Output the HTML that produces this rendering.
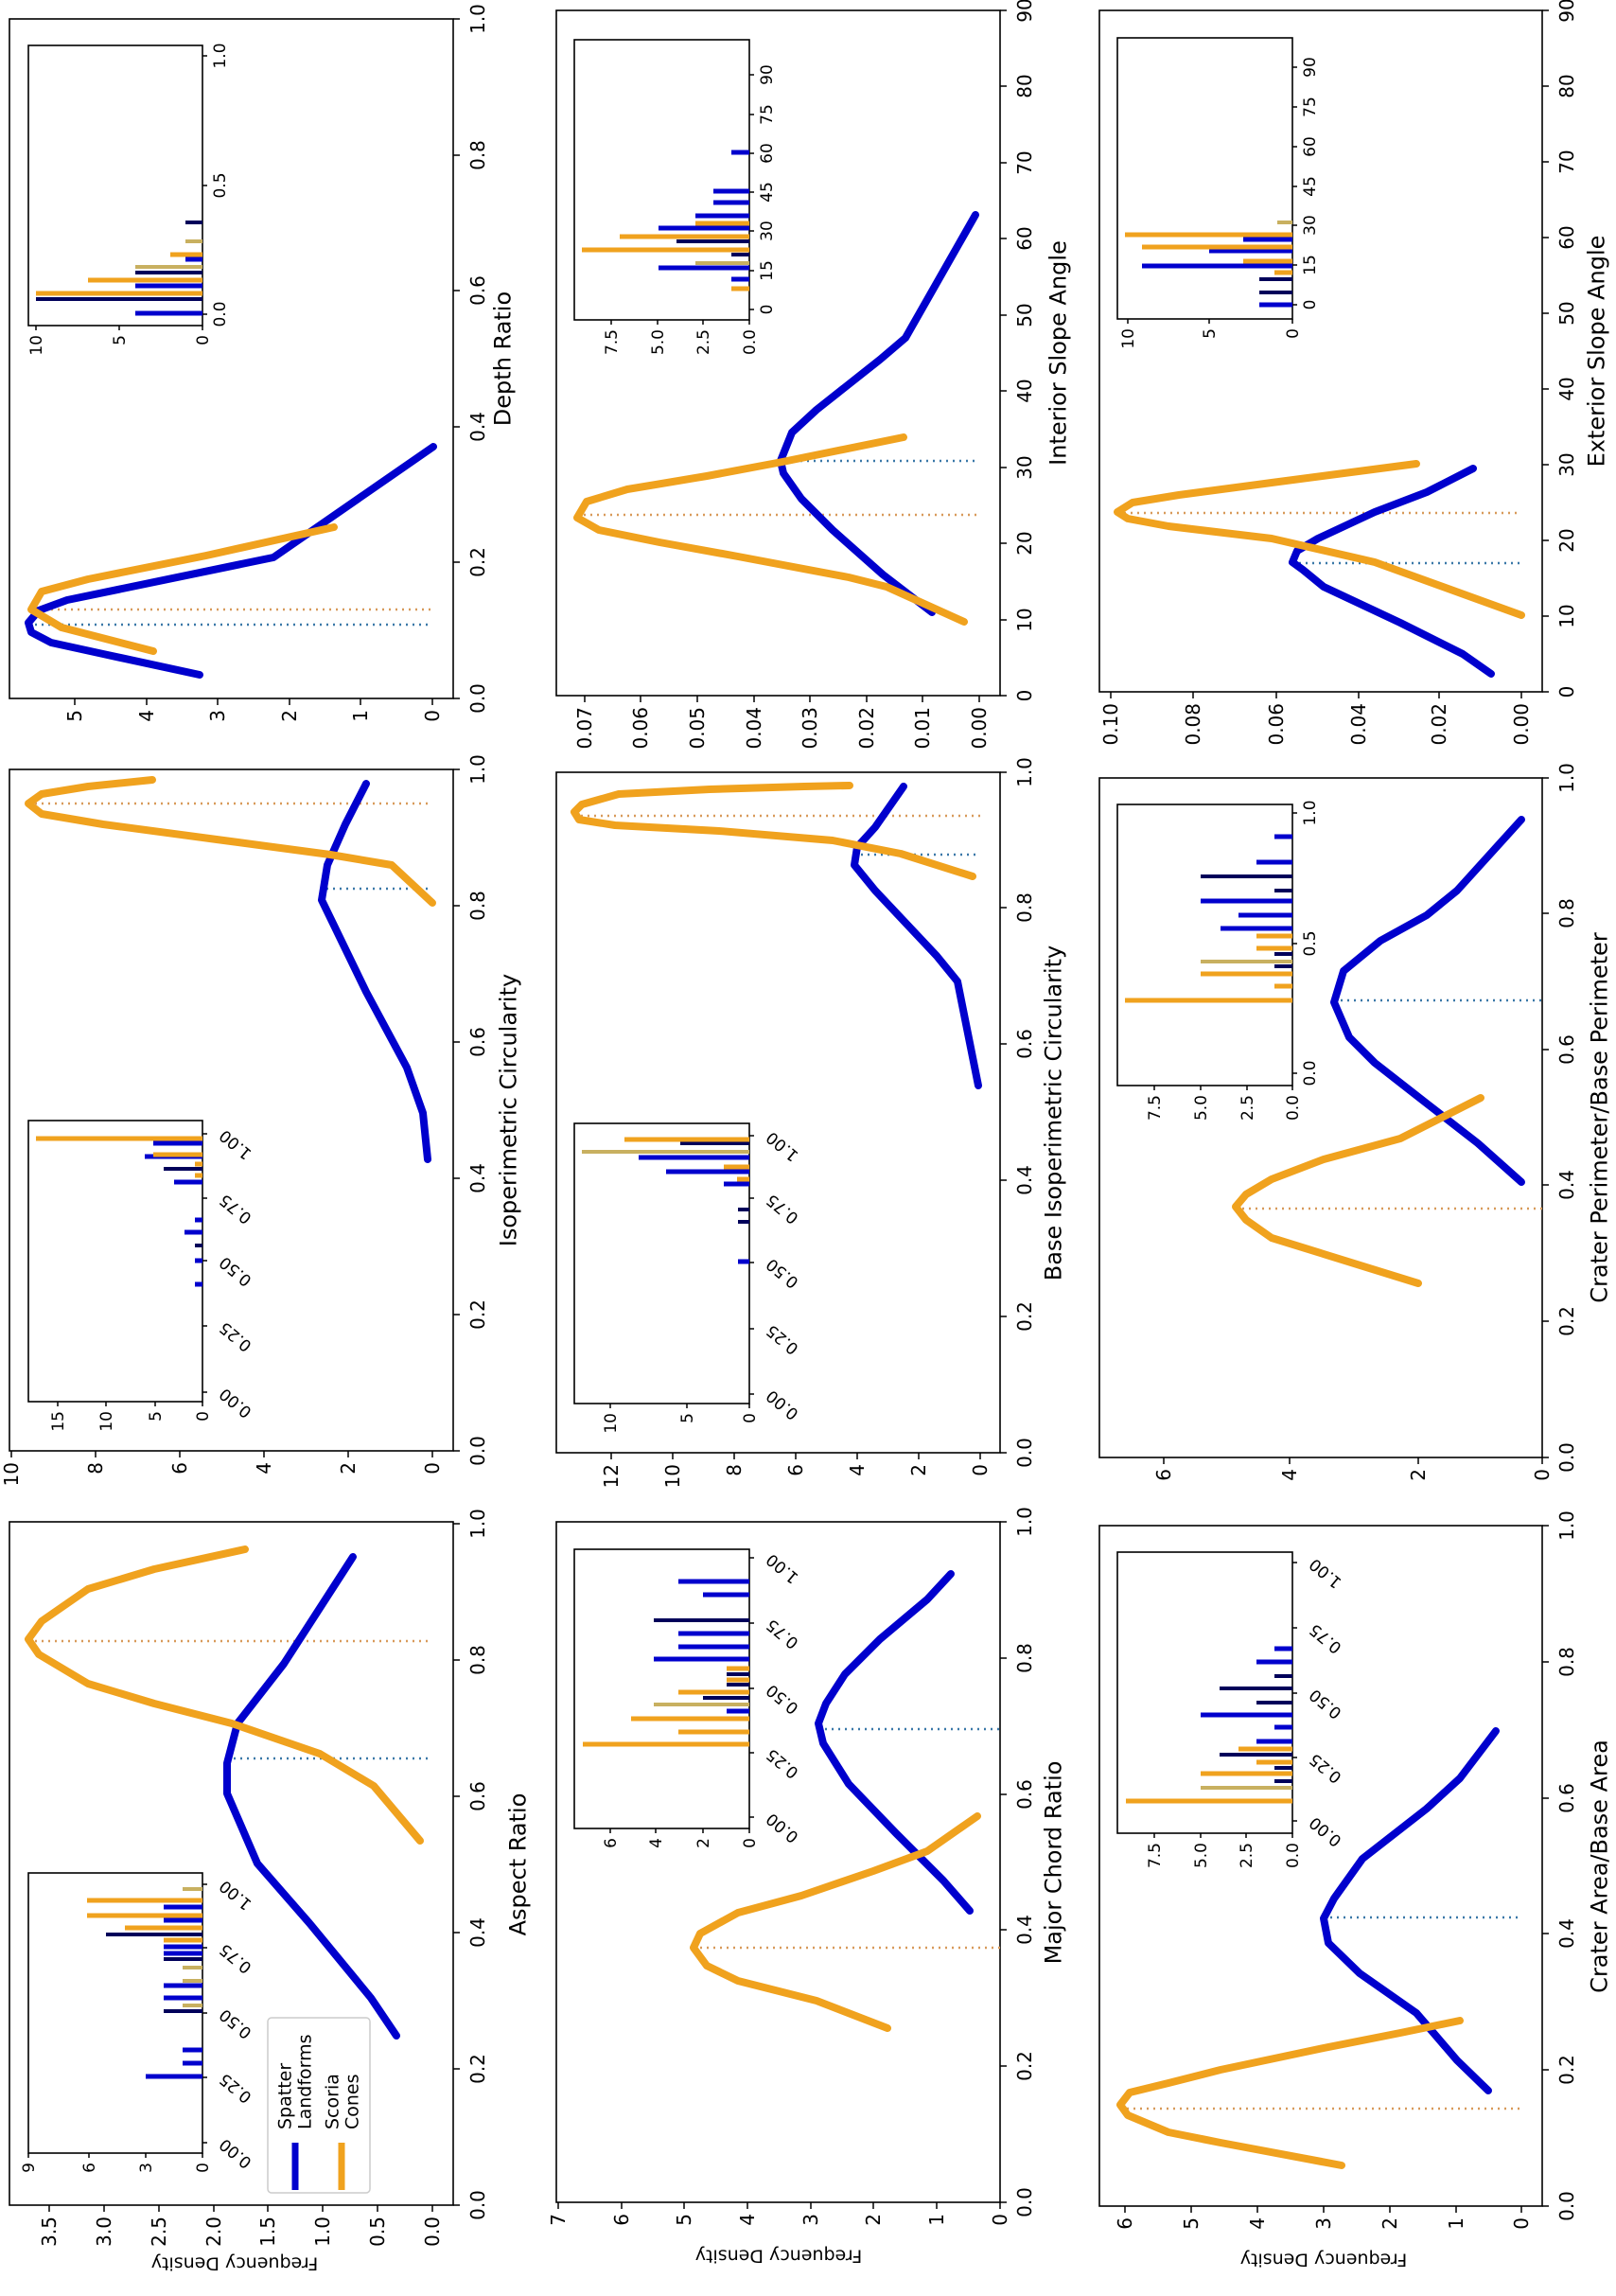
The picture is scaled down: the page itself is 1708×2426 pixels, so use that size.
<!DOCTYPE html>
<html><head><meta charset="utf-8"><style>
html,body{margin:0;padding:0;background:#fff}
svg{display:block}
text{font-family:"DejaVu Sans","Liberation Sans",sans-serif;fill:#000}
.t{font-size:20px}.s{font-size:17px}.l{font-size:24px}.g{font-size:19px}
.fr{fill:none;stroke:#000;stroke-width:1.6}
.tk{stroke:#000;stroke-width:1.5;fill:none}
.cb{fill:none;stroke:#0000cd;stroke-width:8;stroke-linejoin:round;stroke-linecap:round}
.co{fill:none;stroke:#f0a21e;stroke-width:8;stroke-linejoin:round;stroke-linecap:round}
.db{stroke:#3a78a8;stroke-width:2.5;stroke-dasharray:2 5}
.do{stroke:#d89a5a;stroke-width:2.5;stroke-dasharray:2 5}
.B{stroke:#0000cd;stroke-width:5}.N{stroke:#00005a;stroke-width:4}.O{stroke:#f0a21e;stroke-width:5}.T{stroke:#c8b060;stroke-width:4}
</style></head><body>
<svg width="1708" height="2426" viewBox="0 0 1708 2426" xmlns="http://www.w3.org/2000/svg">
<rect width="1708" height="2426" fill="#fff"/>

<!-- ===== A1 Depth Ratio ===== -->
<rect class="fr" x="10" y="20" width="469" height="718"/>
<path class="tk" d="M479 738h7M479 594h7M479 451h7M479 307h7M479 164h7M479 20h7M457 738v7M381 738v7M306 738v7M230 738v7M155 738v7M79 738v7"/>
<g class="t" text-anchor="middle">
<text x="505" y="738" dy=".35em" transform="rotate(-90 505 738)">0.0</text>
<text x="505" y="594" dy=".35em" transform="rotate(-90 505 594)">0.2</text>
<text x="505" y="451" dy=".35em" transform="rotate(-90 505 451)">0.4</text>
<text x="505" y="307" dy=".35em" transform="rotate(-90 505 307)">0.6</text>
<text x="505" y="164" dy=".35em" transform="rotate(-90 505 164)">0.8</text>
<text x="505" y="20" dy=".35em" transform="rotate(-90 505 20)">1.0</text>
</g>
<g class="t" text-anchor="end">
<text x="457" y="750" dy=".35em" transform="rotate(-90 457 750)">0</text>
<text x="381" y="750" dy=".35em" transform="rotate(-90 381 750)">1</text>
<text x="306" y="750" dy=".35em" transform="rotate(-90 306 750)">2</text>
<text x="230" y="750" dy=".35em" transform="rotate(-90 230 750)">3</text>
<text x="155" y="750" dy=".35em" transform="rotate(-90 155 750)">4</text>
<text x="79" y="750" dy=".35em" transform="rotate(-90 79 750)">5</text>
</g>
<text class="l" x="531" y="379" dy=".35em" text-anchor="middle" transform="rotate(-90 531 379)">Depth Ratio</text>
<line class="do" x1="33" y1="644" x2="457" y2="644"/>
<line class="db" x1="30" y1="660" x2="457" y2="660"/>
<polyline class="cb" points="211,713 109,691 54,679 33,668 30,658 41,645 71,634 289,589 458,472"/>
<polyline class="co" points="162,688 65,663 33,644 44,625 93,612 218,587 353,557"/>
<rect class="fr" x="30" y="48" width="184" height="296" fill="#fff"/>
<path class="B" d="M214 331H143M214 302H143M214 274H196"/>
<path class="N" d="M214 316H38M214 288H143M214 235H196"/>
<path class="O" d="M214 310H38M214 296H93M214 269H180"/>
<path class="T" d="M214 282H143M214 255H196"/>
<path class="tk" d="M214 332h5M214 196h5M214 59h5M214 344v5M126 344v5M38 344v5"/>
<g class="s" text-anchor="middle">
<text x="232" y="332" dy=".35em" transform="rotate(-90 232 332)">0.0</text>
<text x="232" y="196" dy=".35em" transform="rotate(-90 232 196)">0.5</text>
<text x="232" y="59" dy=".35em" transform="rotate(-90 232 59)">1.0</text>
</g>
<g class="s" text-anchor="end">
<text x="214" y="354" dy=".35em" transform="rotate(-90 214 354)">0</text>
<text x="126" y="354" dy=".35em" transform="rotate(-90 126 354)">5</text>
<text x="38" y="354" dy=".35em" transform="rotate(-90 38 354)">10</text>
</g>

<!-- ===== B1 Interior Slope Angle ===== -->
<rect class="fr" x="588" y="11" width="469" height="724"/>
<path class="tk" d="M1057 735h7M1057 655h7M1057 574h7M1057 494h7M1057 413h7M1057 333h7M1057 252h7M1057 172h7M1057 91h7M1057 11h7M1035 735v7M975 735v7M916 735v7M856 735v7M797 735v7M737 735v7M677 735v7M618 735v7"/>
<g class="t" text-anchor="middle">
<text x="1083" y="735" dy=".35em" transform="rotate(-90 1083 735)">0</text>
<text x="1083" y="655" dy=".35em" transform="rotate(-90 1083 655)">10</text>
<text x="1083" y="574" dy=".35em" transform="rotate(-90 1083 574)">20</text>
<text x="1083" y="494" dy=".35em" transform="rotate(-90 1083 494)">30</text>
<text x="1083" y="413" dy=".35em" transform="rotate(-90 1083 413)">40</text>
<text x="1083" y="333" dy=".35em" transform="rotate(-90 1083 333)">50</text>
<text x="1083" y="252" dy=".35em" transform="rotate(-90 1083 252)">60</text>
<text x="1083" y="172" dy=".35em" transform="rotate(-90 1083 172)">70</text>
<text x="1083" y="91" dy=".35em" transform="rotate(-90 1083 91)">80</text>
<text x="1083" y="11" dy=".35em" transform="rotate(-90 1083 11)">90</text>
</g>
<g class="t" text-anchor="end">
<text x="1035" y="747" dy=".35em" transform="rotate(-90 1035 747)">0.00</text>
<text x="975" y="747" dy=".35em" transform="rotate(-90 975 747)">0.01</text>
<text x="916" y="747" dy=".35em" transform="rotate(-90 916 747)">0.02</text>
<text x="856" y="747" dy=".35em" transform="rotate(-90 856 747)">0.03</text>
<text x="797" y="747" dy=".35em" transform="rotate(-90 797 747)">0.04</text>
<text x="737" y="747" dy=".35em" transform="rotate(-90 737 747)">0.05</text>
<text x="677" y="747" dy=".35em" transform="rotate(-90 677 747)">0.06</text>
<text x="618" y="747" dy=".35em" transform="rotate(-90 618 747)">0.07</text>
</g>
<text class="l" x="1118" y="373" dy=".35em" text-anchor="middle" transform="rotate(-90 1118 373)">Interior Slope Angle</text>
<line class="db" x1="825" y1="487" x2="1035" y2="487"/>
<line class="do" x1="610" y1="544" x2="1035" y2="544"/>
<polyline class="cb" points="985,647 933,607 880,560 847,527 828,500 825,487 837,457 863,433 930,380 957,357 1031,227"/>
<polyline class="co" points="1019,657 937,620 897,610 780,588 697,573 633,560 610,547 620,530 663,517 747,503 827,488 955,462"/>
<rect class="fr" x="607" y="42" width="185" height="296" fill="#fff"/>
<path class="B" d="M792 295H773M792 283H696M792 241H696M792 228H735M792 214H754M792 202H754M792 161H773"/>
<path class="N" d="M792 269H773M792 255H715"/>
<path class="O" d="M792 305H773M792 264H615M792 250H655M792 236H735"/>
<path class="T" d="M792 278H735"/>
<path class="tk" d="M792 327h5M792 286h5M792 244h5M792 203h5M792 162h5M792 121h5M792 79h5M792 338v5M743 338v5M695 338v5M646 338v5"/>
<g class="s" text-anchor="middle">
<text x="810" y="327" dy=".35em" transform="rotate(-90 810 327)">0</text>
<text x="810" y="286" dy=".35em" transform="rotate(-90 810 286)">15</text>
<text x="810" y="244" dy=".35em" transform="rotate(-90 810 244)">30</text>
<text x="810" y="203" dy=".35em" transform="rotate(-90 810 203)">45</text>
<text x="810" y="162" dy=".35em" transform="rotate(-90 810 162)">60</text>
<text x="810" y="121" dy=".35em" transform="rotate(-90 810 121)">75</text>
<text x="810" y="79" dy=".35em" transform="rotate(-90 810 79)">90</text>
</g>
<g class="s" text-anchor="end">
<text x="792" y="348" dy=".35em" transform="rotate(-90 792 348)">0.0</text>
<text x="743" y="348" dy=".35em" transform="rotate(-90 743 348)">2.5</text>
<text x="695" y="348" dy=".35em" transform="rotate(-90 695 348)">5.0</text>
<text x="646" y="348" dy=".35em" transform="rotate(-90 646 348)">7.5</text>
</g>

<!-- ===== C1 Exterior Slope Angle ===== -->
<rect class="fr" x="1162" y="11" width="468" height="720"/>
<path class="tk" d="M1630 731h7M1630 651h7M1630 571h7M1630 491h7M1630 411h7M1630 331h7M1630 251h7M1630 171h7M1630 91h7M1630 11h7M1608 731v7M1521 731v7M1436 731v7M1349 731v7M1261 731v7M1174 731v7"/>
<g class="t" text-anchor="middle">
<text x="1656" y="731" dy=".35em" transform="rotate(-90 1656 731)">0</text>
<text x="1656" y="651" dy=".35em" transform="rotate(-90 1656 651)">10</text>
<text x="1656" y="571" dy=".35em" transform="rotate(-90 1656 571)">20</text>
<text x="1656" y="491" dy=".35em" transform="rotate(-90 1656 491)">30</text>
<text x="1656" y="411" dy=".35em" transform="rotate(-90 1656 411)">40</text>
<text x="1656" y="331" dy=".35em" transform="rotate(-90 1656 331)">50</text>
<text x="1656" y="251" dy=".35em" transform="rotate(-90 1656 251)">60</text>
<text x="1656" y="171" dy=".35em" transform="rotate(-90 1656 171)">70</text>
<text x="1656" y="91" dy=".35em" transform="rotate(-90 1656 91)">80</text>
<text x="1656" y="11" dy=".35em" transform="rotate(-90 1656 11)">90</text>
</g>
<g class="t" text-anchor="end">
<text x="1608" y="743" dy=".35em" transform="rotate(-90 1608 743)">0.00</text>
<text x="1521" y="743" dy=".35em" transform="rotate(-90 1521 743)">0.02</text>
<text x="1436" y="743" dy=".35em" transform="rotate(-90 1436 743)">0.04</text>
<text x="1349" y="743" dy=".35em" transform="rotate(-90 1349 743)">0.06</text>
<text x="1261" y="743" dy=".35em" transform="rotate(-90 1261 743)">0.08</text>
<text x="1174" y="743" dy=".35em" transform="rotate(-90 1174 743)">0.10</text>
</g>
<text class="l" x="1687" y="371" dy=".35em" text-anchor="middle" transform="rotate(-90 1687 371)">Exterior Slope Angle</text>
<line class="do" x1="1181" y1="542" x2="1608" y2="542"/>
<line class="db" x1="1366" y1="595" x2="1608" y2="595"/>
<polyline class="cb" points="1576,712 1546,691 1480,658 1399,620 1377,602 1366,594 1371,582 1393,569 1453,541 1508,520 1557,495"/>
<polyline class="co" points="1608,650 1453,594 1344,569 1235,556 1192,548 1181,541 1197,531 1246,523 1344,510 1497,490"/>
<rect class="fr" x="1181" y="40" width="185" height="297" fill="#fff"/>
<path class="B" d="M1366 322H1331M1366 281H1207M1366 265H1278M1366 253H1314"/>
<path class="N" d="M1366 309H1331M1366 295H1331"/>
<path class="O" d="M1366 288H1347M1366 276H1314M1366 261H1207M1366 248H1189"/>
<path class="T" d="M1366 235H1350"/>
<path class="tk" d="M1366 322h5M1366 280h5M1366 238h5M1366 197h5M1366 155h5M1366 113h5M1366 71h5M1366 337v5M1278 337v5M1192 337v5"/>
<g class="s" text-anchor="middle">
<text x="1384" y="322" dy=".35em" transform="rotate(-90 1384 322)">0</text>
<text x="1384" y="280" dy=".35em" transform="rotate(-90 1384 280)">15</text>
<text x="1384" y="238" dy=".35em" transform="rotate(-90 1384 238)">30</text>
<text x="1384" y="197" dy=".35em" transform="rotate(-90 1384 197)">45</text>
<text x="1384" y="155" dy=".35em" transform="rotate(-90 1384 155)">60</text>
<text x="1384" y="113" dy=".35em" transform="rotate(-90 1384 113)">75</text>
<text x="1384" y="71" dy=".35em" transform="rotate(-90 1384 71)">90</text>
</g>
<g class="s" text-anchor="end">
<text x="1366" y="347" dy=".35em" transform="rotate(-90 1366 347)">0</text>
<text x="1278" y="347" dy=".35em" transform="rotate(-90 1278 347)">5</text>
<text x="1192" y="347" dy=".35em" transform="rotate(-90 1192 347)">10</text>
</g>

<!-- ===== A2 Isoperimetric Circularity ===== -->
<rect class="fr" x="10" y="813" width="469" height="720"/>
<path class="tk" d="M479 1533h7M479 1389h7M479 1245h7M479 1101h7M479 957h7M479 813h7M457 1533v7M368 1533v7M279 1533v7M190 1533v7M101 1533v7M12 1533v7"/>
<g class="t" text-anchor="middle">
<text x="505" y="1533" dy=".35em" transform="rotate(-90 505 1533)">0.0</text>
<text x="505" y="1389" dy=".35em" transform="rotate(-90 505 1389)">0.2</text>
<text x="505" y="1245" dy=".35em" transform="rotate(-90 505 1245)">0.4</text>
<text x="505" y="1101" dy=".35em" transform="rotate(-90 505 1101)">0.6</text>
<text x="505" y="957" dy=".35em" transform="rotate(-90 505 957)">0.8</text>
<text x="505" y="813" dy=".35em" transform="rotate(-90 505 813)">1.0</text>
</g>
<g class="t" text-anchor="end">
<text x="457" y="1545" dy=".35em" transform="rotate(-90 457 1545)">0</text>
<text x="368" y="1545" dy=".35em" transform="rotate(-90 368 1545)">2</text>
<text x="279" y="1545" dy=".35em" transform="rotate(-90 279 1545)">4</text>
<text x="190" y="1545" dy=".35em" transform="rotate(-90 190 1545)">6</text>
<text x="101" y="1545" dy=".35em" transform="rotate(-90 101 1545)">8</text>
<text x="12" y="1545" dy=".35em" transform="rotate(-90 12 1545)">10</text>
</g>
<text class="l" x="537" y="1173" dy=".35em" text-anchor="middle" transform="rotate(-90 537 1173)">Isoperimetric Circularity</text>
<line class="do" x1="30" y1="849" x2="457" y2="849"/>
<line class="db" x1="345" y1="939" x2="457" y2="939"/>
<polyline class="cb" points="452,1225 447,1176 430,1128 387,1048 340,951 346,914 365,871 387,828"/>
<polyline class="co" points="457,954 414,914 349,903 229,887 109,871 44,860 30,849 44,839 93,831 161,824"/>
<rect class="fr" x="30" y="1184" width="184" height="297" fill="#fff"/>
<path class="B" d="M214 1208H162M214 1222H153M214 1249H184M214 1289H206M214 1302H195M214 1332H206M214 1357H206"/>
<path class="N" d="M214 1235H173M214 1316H206"/>
<path class="O" d="M214 1203H38M214 1220H162M214 1230H206M214 1242H206"/>
<path class="tk" d="M214 1198h5M214 1266h5M214 1332h5M214 1401h5M214 1471h5M214 1481v5M164 1481v5M112 1481v5M61 1481v5"/>
<g class="s" text-anchor="end">
<text x="238" y="1193" transform="rotate(-140 238 1193)">1.00</text>
<text x="238" y="1261" transform="rotate(-140 238 1261)">0.75</text>
<text x="238" y="1327" transform="rotate(-140 238 1327)">0.50</text>
<text x="238" y="1396" transform="rotate(-140 238 1396)">0.25</text>
<text x="238" y="1466" transform="rotate(-140 238 1466)">0.00</text>
<text x="214" y="1491" dy=".35em" transform="rotate(-90 214 1491)">0</text>
<text x="164" y="1491" dy=".35em" transform="rotate(-90 164 1491)">5</text>
<text x="112" y="1491" dy=".35em" transform="rotate(-90 112 1491)">10</text>
<text x="61" y="1491" dy=".35em" transform="rotate(-90 61 1491)">15</text>
</g>

<!-- ===== B2 Base Isoperimetric Circularity ===== -->
<rect class="fr" x="588" y="816" width="469" height="719"/>
<path class="tk" d="M1057 1535h7M1057 1391h7M1057 1247h7M1057 1103h7M1057 959h7M1057 816h7M1036 1535v7M971 1535v7M906 1535v7M841 1535v7M776 1535v7M711 1535v7M646 1535v7"/>
<g class="t" text-anchor="middle">
<text x="1083" y="1535" dy=".35em" transform="rotate(-90 1083 1535)">0.0</text>
<text x="1083" y="1391" dy=".35em" transform="rotate(-90 1083 1391)">0.2</text>
<text x="1083" y="1247" dy=".35em" transform="rotate(-90 1083 1247)">0.4</text>
<text x="1083" y="1103" dy=".35em" transform="rotate(-90 1083 1103)">0.6</text>
<text x="1083" y="959" dy=".35em" transform="rotate(-90 1083 959)">0.8</text>
<text x="1083" y="816" dy=".35em" transform="rotate(-90 1083 816)">1.0</text>
</g>
<g class="t" text-anchor="end">
<text x="1036" y="1547" dy=".35em" transform="rotate(-90 1036 1547)">0</text>
<text x="971" y="1547" dy=".35em" transform="rotate(-90 971 1547)">2</text>
<text x="906" y="1547" dy=".35em" transform="rotate(-90 906 1547)">4</text>
<text x="841" y="1547" dy=".35em" transform="rotate(-90 841 1547)">6</text>
<text x="776" y="1547" dy=".35em" transform="rotate(-90 776 1547)">8</text>
<text x="711" y="1547" dy=".35em" transform="rotate(-90 711 1547)">10</text>
<text x="646" y="1547" dy=".35em" transform="rotate(-90 646 1547)">12</text>
</g>
<text class="l" x="1113" y="1176" dy=".35em" text-anchor="middle" transform="rotate(-90 1113 1176)">Base Isoperimetric Circularity</text>
<line class="do" x1="607" y1="862" x2="1036" y2="862"/>
<line class="db" x1="903" y1="903" x2="1036" y2="903"/>
<polyline class="cb" points="1034,1147 1012,1037 990,1010 925,941 903,914 906,895 925,874 955,831"/>
<polyline class="co" points="1028,926 952,902 880,888 760,878 650,872 612,866 607,858 615,850 654,839 750,834 850,831 898,830"/>
<rect class="fr" x="607" y="1187" width="185" height="296" fill="#fff"/>
<path class="B" d="M792 1223H675M792 1238H704M792 1251H765M792 1333H780"/>
<path class="N" d="M792 1208H719M792 1278H780M792 1291H780"/>
<path class="O" d="M792 1204H660M792 1233H765M792 1246H779"/>
<path class="T" d="M792 1217H615"/>
<path class="tk" d="M792 1200h5M792 1266h5M792 1334h5M792 1404h5M792 1473h5M792 1483v5M726 1483v5M645 1483v5"/>
<g class="s" text-anchor="end">
<text x="816" y="1195" transform="rotate(-140 816 1195)">1.00</text>
<text x="816" y="1261" transform="rotate(-140 816 1261)">0.75</text>
<text x="816" y="1329" transform="rotate(-140 816 1329)">0.50</text>
<text x="816" y="1399" transform="rotate(-140 816 1399)">0.25</text>
<text x="816" y="1468" transform="rotate(-140 816 1468)">0.00</text>
<text x="792" y="1493" dy=".35em" transform="rotate(-90 792 1493)">0</text>
<text x="726" y="1493" dy=".35em" transform="rotate(-90 726 1493)">5</text>
<text x="645" y="1493" dy=".35em" transform="rotate(-90 645 1493)">10</text>
</g>

<!-- ===== C2 Crater Perimeter/Base Perimeter ===== -->
<rect class="fr" x="1162" y="822" width="468" height="718"/>
<path class="tk" d="M1630 1540h7M1630 1396h7M1630 1252h7M1630 1109h7M1630 965h7M1630 822h7M1630 1540v7M1499 1540v7M1363 1540v7M1230 1540v7"/>
<g class="t" text-anchor="middle">
<text x="1656" y="1540" dy=".35em" transform="rotate(-90 1656 1540)">0.0</text>
<text x="1656" y="1396" dy=".35em" transform="rotate(-90 1656 1396)">0.2</text>
<text x="1656" y="1252" dy=".35em" transform="rotate(-90 1656 1252)">0.4</text>
<text x="1656" y="1109" dy=".35em" transform="rotate(-90 1656 1109)">0.6</text>
<text x="1656" y="965" dy=".35em" transform="rotate(-90 1656 965)">0.8</text>
<text x="1656" y="822" dy=".35em" transform="rotate(-90 1656 822)">1.0</text>
</g>
<g class="t" text-anchor="end">
<text x="1630" y="1552" dy=".35em" transform="rotate(-90 1630 1552)">0</text>
<text x="1499" y="1552" dy=".35em" transform="rotate(-90 1499 1552)">2</text>
<text x="1363" y="1552" dy=".35em" transform="rotate(-90 1363 1552)">4</text>
<text x="1230" y="1552" dy=".35em" transform="rotate(-90 1230 1552)">6</text>
</g>
<text class="l" x="1690" y="1181" dy=".35em" text-anchor="middle" transform="rotate(-90 1690 1181)">Crater Perimeter/Base Perimeter</text>
<line class="do" x1="1306" y1="1277" x2="1630" y2="1277"/>
<line class="db" x1="1410" y1="1057" x2="1630" y2="1057"/>
<polyline class="cb" points="1608,1249 1562,1208 1508,1166 1453,1123 1426,1096 1410,1059 1420,1026 1459,994 1508,967 1540,941 1608,866"/>
<polyline class="co" points="1499,1356 1344,1308 1317,1289 1306,1275 1317,1262 1344,1246 1399,1225 1480,1203 1565,1160"/>
<rect class="fr" x="1181" y="850" width="185" height="297" fill="#fff"/>
<path class="B" d="M1366 981H1290M1366 967H1309M1366 952H1269M1366 911H1328M1366 884H1347"/>
<path class="N" d="M1366 1021H1347M1366 1008H1347M1366 941H1347M1366 926H1269"/>
<path class="O" d="M1366 1057H1189M1366 1042H1347M1366 1029H1269M1366 1002H1328M1366 989H1328"/>
<path class="T" d="M1366 1016H1269"/>
<path class="tk" d="M1366 1134h5M1366 997h5M1366 859h5M1366 1147v5M1318 1147v5M1269 1147v5M1220 1147v5"/>
<g class="s" text-anchor="middle">
<text x="1384" y="1134" dy=".35em" transform="rotate(-90 1384 1134)">0.0</text>
<text x="1384" y="997" dy=".35em" transform="rotate(-90 1384 997)">0.5</text>
<text x="1384" y="859" dy=".35em" transform="rotate(-90 1384 859)">1.0</text>
</g>
<g class="s" text-anchor="end">
<text x="1366" y="1157" dy=".35em" transform="rotate(-90 1366 1157)">0.0</text>
<text x="1318" y="1157" dy=".35em" transform="rotate(-90 1318 1157)">2.5</text>
<text x="1269" y="1157" dy=".35em" transform="rotate(-90 1269 1157)">5.0</text>
<text x="1220" y="1157" dy=".35em" transform="rotate(-90 1220 1157)">7.5</text>
</g>

<!-- ===== A3 Aspect Ratio ===== -->
<rect class="fr" x="10" y="1608" width="469" height="722"/>
<path class="tk" d="M479 2330h7M479 2186h7M479 2042h7M479 1898h7M479 1754h7M479 1610h7M457 2330v7M399 2330v7M341 2330v7M283 2330v7M226 2330v7M168 2330v7M110 2330v7M52 2330v7"/>
<g class="t" text-anchor="middle">
<text x="505" y="2330" dy=".35em" transform="rotate(-90 505 2330)">0.0</text>
<text x="505" y="2186" dy=".35em" transform="rotate(-90 505 2186)">0.2</text>
<text x="505" y="2042" dy=".35em" transform="rotate(-90 505 2042)">0.4</text>
<text x="505" y="1898" dy=".35em" transform="rotate(-90 505 1898)">0.6</text>
<text x="505" y="1754" dy=".35em" transform="rotate(-90 505 1754)">0.8</text>
<text x="505" y="1610" dy=".35em" transform="rotate(-90 505 1610)">1.0</text>
</g>
<g class="t" text-anchor="end">
<text x="457" y="2342" dy=".35em" transform="rotate(-90 457 2342)">0.0</text>
<text x="399" y="2342" dy=".35em" transform="rotate(-90 399 2342)">0.5</text>
<text x="341" y="2342" dy=".35em" transform="rotate(-90 341 2342)">1.0</text>
<text x="283" y="2342" dy=".35em" transform="rotate(-90 283 2342)">1.5</text>
<text x="226" y="2342" dy=".35em" transform="rotate(-90 226 2342)">2.0</text>
<text x="168" y="2342" dy=".35em" transform="rotate(-90 168 2342)">2.5</text>
<text x="110" y="2342" dy=".35em" transform="rotate(-90 110 2342)">3.0</text>
<text x="52" y="2342" dy=".35em" transform="rotate(-90 52 2342)">3.5</text>
</g>
<text class="l" x="547" y="1970" dy=".35em" text-anchor="middle" transform="rotate(-90 547 1970)">Aspect Ratio</text>
<text class="g" x="248" y="2392" dy=".35em" text-anchor="middle" transform="rotate(180 248 2392)">Frequency Density</text>
<line class="do" x1="30" y1="1734" x2="457" y2="1734"/>
<line class="db" x1="240" y1="1858" x2="457" y2="1858"/>
<polyline class="cb" points="419,2151 392,2111 327,2032 272,1969 240,1895 240,1863 251,1821 300,1758 373,1645"/>
<polyline class="co" points="444,1945 395,1887 338,1853 245,1821 163,1800 93,1779 41,1748 30,1732 44,1713 93,1679 163,1658 259,1637"/>
<rect class="fr" x="30" y="1979" width="184" height="296" fill="#fff"/>
<path class="B" d="M214 2015H173M214 2029H173M214 2057H173M214 2064H173M214 2098H173M214 2111H173M214 2166H193M214 2180H193M214 2194H154"/>
<path class="N" d="M214 2044H112M214 2070H173M214 2125H173"/>
<path class="O" d="M214 2008H92M214 2024H92M214 2037H132M214 2050H173"/>
<path class="T" d="M214 1996H193M214 2079H193M214 2093H193M214 2119H193"/>
<path class="tk" d="M214 1991h5M214 2058h5M214 2127h5M214 2195h5M214 2264h5M214 2275v5M154 2275v5M94 2275v5M30 2275v5"/>
<g class="s" text-anchor="end">
<text x="238" y="1986" transform="rotate(-140 238 1986)">1.00</text>
<text x="238" y="2053" transform="rotate(-140 238 2053)">0.75</text>
<text x="238" y="2122" transform="rotate(-140 238 2122)">0.50</text>
<text x="238" y="2190" transform="rotate(-140 238 2190)">0.25</text>
<text x="238" y="2259" transform="rotate(-140 238 2259)">0.00</text>
<text x="214" y="2285" dy=".35em" transform="rotate(-90 214 2285)">0</text>
<text x="154" y="2285" dy=".35em" transform="rotate(-90 154 2285)">3</text>
<text x="94" y="2285" dy=".35em" transform="rotate(-90 94 2285)">6</text>
<text x="30" y="2285" dy=".35em" transform="rotate(-90 30 2285)">9</text>
</g>
<rect x="283" y="2132" width="108" height="185" rx="4" fill="#fff" stroke="#ccc" stroke-width="1.5"/>
<line x1="312" y1="2264" x2="312" y2="2314" stroke="#0000cd" stroke-width="7"/>
<line x1="361" y1="2264" x2="361" y2="2314" stroke="#f0a21e" stroke-width="7"/>
<g class="g" text-anchor="start">
<text x="301" y="2250" dy=".35em" transform="rotate(-90 301 2250)">Spatter</text>
<text x="322" y="2250" dy=".35em" transform="rotate(-90 322 2250)">Landforms</text>
<text x="351" y="2250" dy=".35em" transform="rotate(-90 351 2250)">Scoria</text>
<text x="372" y="2250" dy=".35em" transform="rotate(-90 372 2250)">Cones</text>
</g>

<!-- ===== B3 Major Chord Ratio ===== -->
<rect class="fr" x="588" y="1608" width="469" height="719"/>
<path class="tk" d="M1057 2327h7M1057 2183h7M1057 2039h7M1057 1896h7M1057 1752h7M1057 1608h7M1057 2327v7M990 2327v7M923 2327v7M857 2327v7M790 2327v7M723 2327v7M657 2327v7M590 2327v7"/>
<g class="t" text-anchor="middle">
<text x="1083" y="2327" dy=".35em" transform="rotate(-90 1083 2327)">0.0</text>
<text x="1083" y="2183" dy=".35em" transform="rotate(-90 1083 2183)">0.2</text>
<text x="1083" y="2039" dy=".35em" transform="rotate(-90 1083 2039)">0.4</text>
<text x="1083" y="1896" dy=".35em" transform="rotate(-90 1083 1896)">0.6</text>
<text x="1083" y="1752" dy=".35em" transform="rotate(-90 1083 1752)">0.8</text>
<text x="1083" y="1608" dy=".35em" transform="rotate(-90 1083 1608)">1.0</text>
</g>
<g class="t" text-anchor="end">
<text x="1057" y="2339" dy=".35em" transform="rotate(-90 1057 2339)">0</text>
<text x="990" y="2339" dy=".35em" transform="rotate(-90 990 2339)">1</text>
<text x="923" y="2339" dy=".35em" transform="rotate(-90 923 2339)">2</text>
<text x="857" y="2339" dy=".35em" transform="rotate(-90 857 2339)">3</text>
<text x="790" y="2339" dy=".35em" transform="rotate(-90 790 2339)">4</text>
<text x="723" y="2339" dy=".35em" transform="rotate(-90 723 2339)">5</text>
<text x="657" y="2339" dy=".35em" transform="rotate(-90 657 2339)">6</text>
<text x="590" y="2339" dy=".35em" transform="rotate(-90 590 2339)">7</text>
</g>
<text class="l" x="1113" y="1968" dy=".35em" text-anchor="middle" transform="rotate(-90 1113 1968)">Major Chord Ratio</text>
<text class="g" x="823" y="2384" dy=".35em" text-anchor="middle" transform="rotate(180 823 2384)">Frequency Density</text>
<line class="do" x1="733" y1="2058" x2="1057" y2="2058"/>
<line class="db" x1="865" y1="1827" x2="1057" y2="1827"/>
<polyline class="cb" points="1025,2019 997,1987 947,1937 897,1885 870,1842 865,1821 873,1800 893,1769 930,1732 980,1690 1005,1663"/>
<polyline class="co" points="938,2143 863,2114 780,2093 747,2077 733,2058 740,2043 780,2021 847,2003 923,1977 980,1956 1033,1919"/>
<rect class="fr" x="607" y="1637" width="185" height="295" fill="#fff"/>
<path class="B" d="M792 1671H717M792 1685H743M792 1726H717M792 1740H717M792 1753H691M792 1808H768"/>
<path class="N" d="M792 1712H691M792 1769H768M792 1780H768M792 1794H743"/>
<path class="O" d="M792 1763H768M792 1775H768M792 1788H717M792 1816H667M792 1830H717M792 1843H616"/>
<path class="T" d="M792 1801H691"/>
<path class="tk" d="M792 1646h5M792 1715h5M792 1784h5M792 1852h5M792 1920h5M792 1932v5M743 1932v5M693 1932v5M645 1932v5"/>
<g class="s" text-anchor="end">
<text x="816" y="1641" transform="rotate(-140 816 1641)">1.00</text>
<text x="816" y="1710" transform="rotate(-140 816 1710)">0.75</text>
<text x="816" y="1779" transform="rotate(-140 816 1779)">0.50</text>
<text x="816" y="1847" transform="rotate(-140 816 1847)">0.25</text>
<text x="816" y="1915" transform="rotate(-140 816 1915)">0.00</text>
<text x="792" y="1942" dy=".35em" transform="rotate(-90 792 1942)">0</text>
<text x="743" y="1942" dy=".35em" transform="rotate(-90 743 1942)">2</text>
<text x="693" y="1942" dy=".35em" transform="rotate(-90 693 1942)">4</text>
<text x="645" y="1942" dy=".35em" transform="rotate(-90 645 1942)">6</text>
</g>

<!-- ===== C3 Crater Area/Base Area ===== -->
<rect class="fr" x="1162" y="1612" width="468" height="719"/>
<path class="tk" d="M1630 2331h7M1630 2187h7M1630 2043h7M1630 1900h7M1630 1756h7M1630 1612h7M1608 2331v7M1539 2331v7M1469 2331v7M1399 2331v7M1329 2331v7M1259 2331v7M1189 2331v7"/>
<g class="t" text-anchor="middle">
<text x="1656" y="2331" dy=".35em" transform="rotate(-90 1656 2331)">0.0</text>
<text x="1656" y="2187" dy=".35em" transform="rotate(-90 1656 2187)">0.2</text>
<text x="1656" y="2043" dy=".35em" transform="rotate(-90 1656 2043)">0.4</text>
<text x="1656" y="1900" dy=".35em" transform="rotate(-90 1656 1900)">0.6</text>
<text x="1656" y="1756" dy=".35em" transform="rotate(-90 1656 1756)">0.8</text>
<text x="1656" y="1612" dy=".35em" transform="rotate(-90 1656 1612)">1.0</text>
</g>
<g class="t" text-anchor="end">
<text x="1608" y="2343" dy=".35em" transform="rotate(-90 1608 2343)">0</text>
<text x="1539" y="2343" dy=".35em" transform="rotate(-90 1539 2343)">1</text>
<text x="1469" y="2343" dy=".35em" transform="rotate(-90 1469 2343)">2</text>
<text x="1399" y="2343" dy=".35em" transform="rotate(-90 1399 2343)">3</text>
<text x="1329" y="2343" dy=".35em" transform="rotate(-90 1329 2343)">4</text>
<text x="1259" y="2343" dy=".35em" transform="rotate(-90 1259 2343)">5</text>
<text x="1189" y="2343" dy=".35em" transform="rotate(-90 1189 2343)">6</text>
</g>
<text class="l" x="1690" y="1972" dy=".35em" text-anchor="middle" transform="rotate(-90 1690 1972)">Crater Area/Base Area</text>
<text class="g" x="1399" y="2388" dy=".35em" text-anchor="middle" transform="rotate(180 1399 2388)">Frequency Density</text>
<line class="do" x1="1184" y1="2228" x2="1608" y2="2228"/>
<line class="db" x1="1399" y1="2026" x2="1608" y2="2026"/>
<polyline class="cb" points="1573,2209 1540,2177 1497,2127 1437,2085 1404,2053 1399,2027 1410,2006 1440,1964 1508,1911 1543,1879 1581,1829"/>
<polyline class="co" points="1418,2288 1290,2264 1235,2253 1192,2235 1184,2224 1194,2211 1235,2201 1290,2187 1399,2164 1480,2148 1543,2135"/>
<rect class="fr" x="1181" y="1640" width="185" height="297" fill="#fff"/>
<path class="B" d="M1366 1742H1347M1366 1756H1328M1366 1812H1269M1366 1825H1347M1366 1840H1328"/>
<path class="N" d="M1366 1771H1347M1366 1784H1289M1366 1799H1328M1366 1854H1289M1366 1868H1347M1366 1882H1347"/>
<path class="O" d="M1366 1848H1309M1366 1862H1328M1366 1874H1269M1366 1903H1190"/>
<path class="T" d="M1366 1889H1269"/>
<path class="tk" d="M1366 1651h5M1366 1720h5M1366 1789h5M1366 1857h5M1366 1924h5M1366 1937v5M1317 1937v5M1269 1937v5M1220 1937v5"/>
<g class="s" text-anchor="end">
<text x="1390" y="1646" transform="rotate(-140 1390 1646)">1.00</text>
<text x="1390" y="1715" transform="rotate(-140 1390 1715)">0.75</text>
<text x="1390" y="1784" transform="rotate(-140 1390 1784)">0.50</text>
<text x="1390" y="1852" transform="rotate(-140 1390 1852)">0.25</text>
<text x="1390" y="1919" transform="rotate(-140 1390 1919)">0.00</text>
<text x="1366" y="1947" dy=".35em" transform="rotate(-90 1366 1947)">0.0</text>
<text x="1317" y="1947" dy=".35em" transform="rotate(-90 1317 1947)">2.5</text>
<text x="1269" y="1947" dy=".35em" transform="rotate(-90 1269 1947)">5.0</text>
<text x="1220" y="1947" dy=".35em" transform="rotate(-90 1220 1947)">7.5</text>
</g>
</svg>
</body></html>
